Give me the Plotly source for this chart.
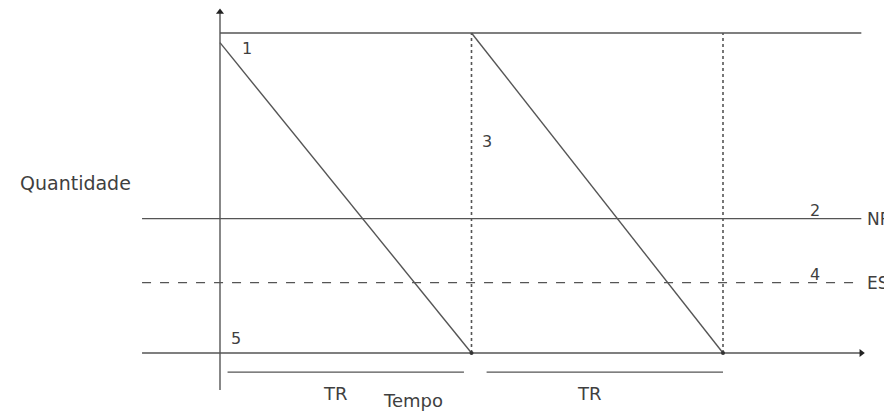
import plotly.graph_objects as go

# ---- data (conceptual units: time, quantity) ----
cycle_t = [0, 10, 20]            # replenishment instants / cycle boundaries
q_start = 97                     # level at the first instant
q_max = 100                      # maximum stock level
nr_level = 42                    # reorder point (NR)
es_level = 22                    # safety stock (ES)
tr_t0 = [0.3, 10.6]              # TR bracket starts
tr_t1 = [9.7, 20.0]              # TR bracket ends
point_labels = ["1", "2", "3", "4", "5"]
point_t = [1.07, 23.66, 10.6, 23.66, 0.64]
point_q = [95.2, 44.5, 66.0, 24.5, 4.5]
x_left, x_right = -3.1, 25.5     # extent of the horizontal lines
y_bottom, y_top = -11.6, 106.6   # extent of vertical axis line
tr_level = -6

# ---- scales (layout) ----
# the page body adds an 8px offset, so the figure is slightly smaller
OFF = 8
W, H = 892 - OFF, 413 - OFF
PX_T = 25.15
PX_Q = 3.2
x0_px, y0_px = 220 - OFF, 353 - OFF
xr = [-x0_px / PX_T, (W - x0_px) / PX_T]
yr = [-(H - y0_px) / PX_Q, y0_px / PX_Q]

LINE = "#555555"
TXT = "#3f3f3f"
FONT = "DejaVu Sans"

fig = go.Figure()

def seg(xs, ys, dash="solid", width=1.4, color=LINE):
    fig.add_trace(go.Scatter(x=xs, y=ys, mode="lines",
                             line=dict(color=color, width=width, dash=dash),
                             hoverinfo="skip", showlegend=False, connectgaps=False))

# axes
seg([0, 0], [y_bottom, y_top])
seg([x_left, x_right], [0, 0])
fig.add_trace(go.Scatter(x=[0], y=[y_top], mode="markers",
                         marker=dict(symbol="triangle-up", size=7, color="#222"),
                         hoverinfo="skip", showlegend=False))
fig.add_trace(go.Scatter(x=[x_right], y=[0], mode="markers",
                         marker=dict(symbol="triangle-right", size=7, color="#222"),
                         hoverinfo="skip", showlegend=False))

# max level line
seg([cycle_t[0], x_right], [q_max, q_max])
# NR and ES
seg([x_left, x_right], [nr_level, nr_level])
seg([x_left, x_right], [es_level, es_level], dash="dash", width=1.2)

# sawtooth (consumption lines only; replenishment is drawn dotted)
seg([cycle_t[0], cycle_t[1], None, cycle_t[1], cycle_t[2]],
    [q_start, 0, None, q_max, 0])
# vertical dotted lines at cycle boundaries
for t in cycle_t[1:]:
    seg([t, t], [0, q_max], dash="dot", width=1.6)
fig.add_trace(go.Scatter(x=cycle_t[1:], y=[0, 0], mode="markers",
                         marker=dict(size=4, color="#333"),
                         hoverinfo="skip", showlegend=False))

# TR brackets
for a, b in zip(tr_t0, tr_t1):
    seg([a, b], [tr_level, tr_level], width=1.2)

ann = []
def txt(x, y, s, xanchor="center", size=16):
    ann.append(dict(x=x, y=y, text=s, showarrow=False, xanchor=xanchor,
                    yanchor="middle", font=dict(family=FONT, size=size, color=TXT)))

for s, t, q in zip(point_labels, point_t, point_q):
    txt(t, q, s)
txt(x_right + 0.15, nr_level, "NR", xanchor="left", size=17)
txt(x_right + 0.15, es_level, "ES", xanchor="left", size=17)
txt((tr_t0[0] + tr_t1[0]) / 2 - 0.4, -12.7, "TR", size=18)
txt((tr_t0[1] + tr_t1[1]) / 2 - 0.6, -12.7, "TR", size=18)
txt(7.67, -14.8, "Tempo", size=18)
txt(-5.75, 53.0, "Quantidade", size=19)

fig.update_layout(
    width=W, height=H, margin=dict(l=0, r=0, t=0, b=0),
    paper_bgcolor="white", plot_bgcolor="white",
    xaxis=dict(range=xr, visible=False, fixedrange=True),
    yaxis=dict(range=yr, visible=False, fixedrange=True),
    annotations=ann, showlegend=False,
)
fig.write_html("out.html")
